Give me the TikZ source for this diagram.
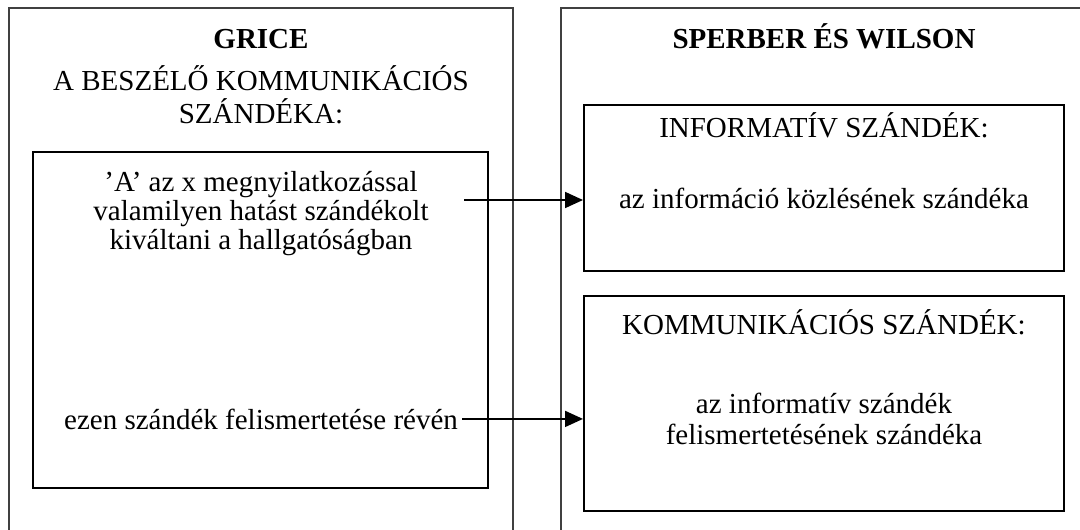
\documentclass[tikz,border=0pt]{standalone}
\usepackage{fontspec}
\setmainfont{Liberation Serif}
\usetikzlibrary{arrows.meta}
\begin{document}
\begin{tikzpicture}[x=1pt,y=-1pt,
  outerbox/.style={draw=black!75, line width=1.2pt},
  innerbox/.style={draw=black, line width=2pt, inner sep=0pt},
  txt/.style={inner sep=0pt, anchor=base, font=\fontsize{29}{33}\selectfont},
  ttl/.style={txt, font=\fontsize{29}{33}\selectfont\bfseries},
  arr/.style={line width=1.8pt, -{Triangle[length=18pt,width=16pt]}}]
\useasboundingbox (0,0) rectangle (1080,530);
\clip (0,0) rectangle (1080,530);
\fill[white] (0,0) rectangle (1080,530);
% outer panels
\draw[outerbox] (9,8) rectangle (513,560);
\draw[outerbox] (561,8) rectangle (1100,560);
% inner boxes
\node[innerbox, minimum width=455pt, minimum height=336pt] (grbox) at (260.5,320) {};
\node[innerbox, minimum width=480pt, minimum height=166pt] (info) at (824,188) {};
\node[innerbox, minimum width=480pt, minimum height=215pt] (komm) at (824,403.5) {};
% left texts
\node[ttl] (grice) at (261,48) {GRICE};
\node[txt] (besz1) at (261,90) {A BESZÉLŐ KOMMUNIKÁCIÓS};
\node[txt] (besz2) at (261,123) {SZÁNDÉKA:};
\node[txt] (g1) at (261,191) {’A’ az x megnyilatkozással};
\node[txt] (g2) at (261,220) {valamilyen hatást szándékolt};
\node[txt] (g3) at (261,249) {kiváltani a hallgatóságban};
\node[txt] (ezen) at (261,429) {ezen szándék felismertetése révén};
% right texts
\node[ttl] (sw) at (824,48) {SPERBER ÉS WILSON};
\node[txt] (inf1) at (824,137) {INFORMATÍV SZÁNDÉK:};
\node[txt] (inf2) at (824,208) {az információ közlésének szándéka};
\node[txt] (kom1) at (824,334) {KOMMUNIKÁCIÓS SZÁNDÉK:};
\node[txt] (kom2) at (824,413) {az informatív szándék};
\node[txt] (kom3) at (824,444) {felismertetésének szándéka};
% arrows
\coordinate (a1) at (464,200);
\draw[arr] (a1) -- (a1 -| info.west);
\draw[arr] ([xshift=4pt]ezen.east) -- (ezen.east -| komm.west);
\end{tikzpicture}
\end{document}
